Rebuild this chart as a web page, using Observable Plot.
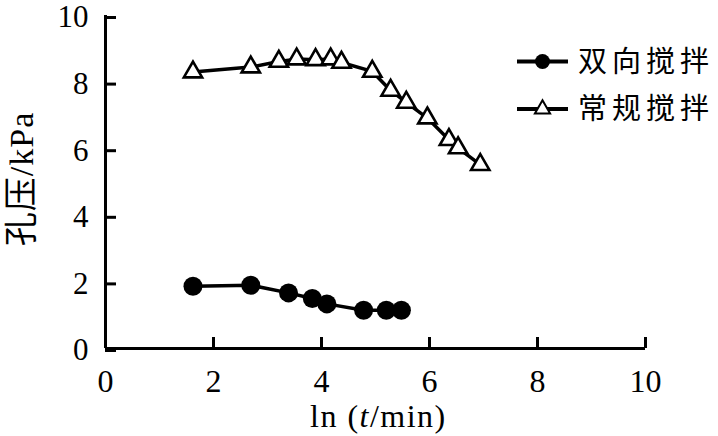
<!DOCTYPE html>
<html><head><meta charset="utf-8">
<script src="https://cdn.jsdelivr.net/npm/d3@7"></script>
<script src="https://cdn.jsdelivr.net/npm/@observablehq/plot@0.6"></script>
<style>
body{margin:0;background:#fff;}
#wrap{position:relative;width:718px;height:436px;overflow:hidden;}
.lab{position:absolute;font-family:"Liberation Serif","Noto Sans CJK SC",serif;font-size:32px;color:#000;white-space:nowrap;line-height:1;}
</style></head><body><div id="wrap"></div>
<script>
// Series names
const seriesNames = ["双向搅拌", "常规搅拌"];
// 双向搅拌 (two-way mixing): ln(t/min) and pore pressure (kPa)
const biX = [1.62, 2.69, 3.39, 3.83, 4.10, 4.78, 5.20, 5.48];
const biY = [1.87, 1.90, 1.67, 1.50, 1.34, 1.15, 1.15, 1.15];
// 常规搅拌 (conventional mixing)
const convX = [1.62, 2.69, 3.21, 3.54, 3.89, 4.17, 4.37, 4.94, 5.28, 5.57, 5.96, 6.36, 6.53, 6.94];
const convY = [8.30, 8.45, 8.62, 8.69, 8.67, 8.69, 8.59, 8.32, 7.75, 7.39, 6.92, 6.27, 6.02, 5.52];
// Ticks
const xTicks = [0, 2, 4, 6, 8, 10];
const yTicks = [0, 2, 4, 6, 8, 10];
const yLabel = "孔压/kPa";

const bi = biX.map((x, i) => ({x, y: biY[i], s: seriesNames[0]}));
const conv = convX.map((x, i) => ({x, y: convY[i], s: seriesNames[1]}));

const font = "Liberation Serif, Noto Sans CJK SC, serif";
const chart = Plot.plot({
  width: 718,
  height: 436,
  marginLeft: 105,
  marginRight: 73,
  marginTop: 15,
  marginBottom: 88,
  style: {fontFamily: font, background: "#fff", color: "#000"},
  x: {domain: [0, 10], label: null},
  y: {domain: [0, 10], label: null},
  marks: [
    Plot.ruleX([0], {stroke: "#000", strokeWidth: 3}),
    Plot.ruleY([0], {stroke: "#000", strokeWidth: 3}),
    Plot.axisX(xTicks, {tickSize: -11, tickPadding: 32, strokeWidth: 3, fontSize: 32, fontFamily: font, label: null}),
    Plot.axisY(yTicks, {tickSize: -11, tickPadding: 28, strokeWidth: 3, fontSize: 31, dy: 2, fontFamily: font, label: null}),
    Plot.line(bi, {x: "x", y: "y", stroke: "#000", strokeWidth: 3.5}),
    Plot.line(conv, {x: "x", y: "y", stroke: "#000", strokeWidth: 3.5}),
    Plot.dot(bi, {x: "x", y: "y", r: 9.5, fill: "#000", stroke: "none"}),
    Plot.dot(conv, {x: "x", y: "y", symbol: "triangle", r: 6.8, fill: "#fff", stroke: "#000", strokeWidth: 2.6})
  ]
});
const wrap = document.getElementById("wrap");
wrap.appendChild(chart);

// Axis titles
const xl = document.createElement("div");
xl.className = "lab";
xl.style.left = "310px"; xl.style.top = "400px";
xl.style.letterSpacing = "1.5px";
xl.innerHTML = "ln (<i>t</i>/min)";
wrap.appendChild(xl);

const yl = document.createElement("div");
yl.className = "lab";
yl.textContent = yLabel;
yl.style.fontSize = "34px";
yl.style.letterSpacing = "1px";
yl.style.left = "22px"; yl.style.top = "179px";
yl.style.transform = "translate(-50%,-50%) rotate(-90deg)";
wrap.appendChild(yl);

// Legend
const ns = "http://www.w3.org/2000/svg";
const leg = document.createElementNS(ns, "svg");
leg.setAttribute("width", 218); leg.setAttribute("height", 110);
leg.style.position = "absolute"; leg.style.left = "505px"; leg.style.top = "35px";
wrap.appendChild(leg);
const lg = d3.select(leg);
seriesNames.forEach((name, i) => {
  const cy = 26.5 + i * 47.5;
  lg.append("line").attr("x1", 12).attr("x2", 63).attr("y1", cy).attr("y2", cy)
    .attr("stroke", "#000").attr("stroke-width", 4);
  if (i === 0) {
    lg.append("circle").attr("cx", 37.5).attr("cy", cy).attr("r", 7.5).attr("fill", "#000");
  } else {
    const sym = d3.symbol(d3.symbolTriangle, 100)();
    lg.append("path").attr("d", sym).attr("transform", `translate(37.5,${cy})`)
      .attr("fill", "#fff").attr("stroke", "#000").attr("stroke-width", 2);
  }
  lg.append("text").attr("x", 73).attr("y", cy).attr("dy", "0.36em")
    .attr("font-family", font).attr("font-size", 29).attr("letter-spacing", 5).text(name);
});
</script>
</body></html>
